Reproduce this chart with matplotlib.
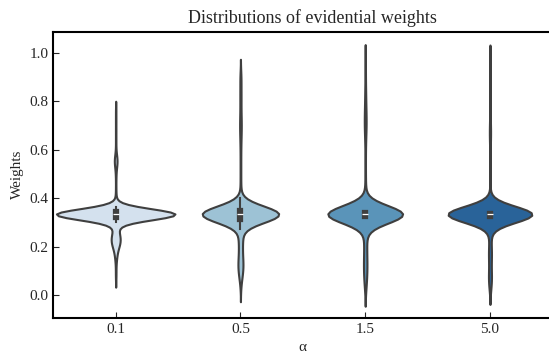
import numpy as np
import pandas as pd
import matplotlib
matplotlib.use("Agg")
import matplotlib.pyplot as plt
import seaborn as sns

alphas = ["0.1", "0.5", "1.5", "5.0"]

# binned weight values and how many samples sit on each, per alpha
w01_vals = [0.072, 0.10, 0.13, 0.15, 0.17, 0.19, 0.21, 0.23, 0.25, 0.27, 0.285,
            0.303, 0.313, 0.318, 0.323, 0.328, 0.333, 0.338, 0.343, 0.348, 0.353, 0.363,
            0.40, 0.44, 0.48, 0.51, 0.53, 0.55, 0.57, 0.60, 0.64, 0.68, 0.72, 0.76]
w01_counts = [1, 1, 1, 2, 3, 5, 10, 11, 9, 5, 3,
              5, 16, 28, 44, 57, 62, 57, 44, 28, 16, 5,
              2, 1, 1, 1, 2, 4, 3, 1, 1, 1, 1, 1]

w05_vals = [0.026, 0.04, 0.06, 0.08, 0.10, 0.12, 0.14, 0.16, 0.18, 0.20, 0.22, 0.24, 0.26,
            0.273, 0.278, 0.283, 0.288, 0.293, 0.298, 0.303, 0.308, 0.313, 0.318, 0.323, 0.328,
            0.333, 0.338, 0.343, 0.348, 0.353, 0.358, 0.363, 0.368, 0.373, 0.378, 0.383, 0.388,
            0.393,
            0.40, 0.43, 0.46, 0.49, 0.52, 0.55, 0.58, 0.61, 0.64, 0.67, 0.70, 0.73, 0.76, 0.79,
            0.82, 0.85, 0.88, 0.90, 0.919]
w05_counts = [2, 4, 10, 18, 24, 27, 24, 20, 18, 18, 20, 22, 20,
              2, 5, 9, 15, 24, 36, 52, 71, 92, 112, 129, 141,
              145, 141, 129, 112, 92, 71, 52, 36, 24, 15, 9, 5,
              2,
              8, 6, 5, 5, 5, 5, 5, 6, 8, 11, 13, 11, 8, 8,
              9, 8, 7, 6, 4]

w15_vals = [0.025, 0.05, 0.07, 0.09, 0.11, 0.13, 0.15, 0.17, 0.19, 0.21, 0.23, 0.25, 0.27,
            0.323, 0.328, 0.333, 0.338, 0.343,
            0.40, 0.44, 0.48, 0.52, 0.56, 0.60, 0.64, 0.68, 0.71, 0.74, 0.77, 0.80, 0.84, 0.88,
            0.92, 0.962]
w15_counts = [2, 3, 3, 3, 4, 4, 3, 3, 3, 3, 3, 3, 3,
              15, 60, 180, 60, 15,
              2, 2, 1, 1, 1, 1, 2, 3, 3, 3, 2, 2, 2, 1,
              1, 1]

w50_vals = [0.027, 0.04, 0.05, 0.07, 0.09, 0.11, 0.13, 0.15, 0.17, 0.19, 0.21, 0.23, 0.25, 0.27,
            0.323, 0.328, 0.333, 0.338, 0.343,
            0.40, 0.45, 0.50, 0.55, 0.60, 0.64, 0.67, 0.70, 0.74, 0.78, 0.82, 0.86, 0.90, 0.94,
            0.966]
w50_counts = [2, 1, 3, 4, 3, 2, 2, 3, 4, 3, 2, 2, 2, 3,
              15, 55, 200, 55, 15,
              1, 1, 1, 1, 1, 2, 2, 2, 1, 1, 1, 1, 1, 2,
              1]

groups = {"0.1": (w01_vals, w01_counts), "0.5": (w05_vals, w05_counts),
          "1.5": (w15_vals, w15_counts), "5.0": (w50_vals, w50_counts)}

rows = []
for a in alphas:
    vals, counts = groups[a]
    w = np.repeat(vals, counts)
    rows.append(pd.DataFrame({"alpha": a, "weight": w}))
df = pd.concat(rows, ignore_index=True)

sns.set_style("ticks")
plt.rcParams["font.family"] = "serif"
plt.rcParams["font.serif"] = ["Liberation Serif", "DejaVu Serif"]

fig = plt.figure(figsize=(5.49, 3.54), dpi=100)
ax = fig.add_axes([0.0971, 0.1025, 0.909, 0.808])

sns.violinplot(data=df, x="alpha", y="weight", hue="alpha", order=alphas, hue_order=alphas,
               palette="Blues", legend=False, width=0.95, linewidth=1.5, linecolor="#3f3f3f",
               inner="box", inner_kws=dict(box_width=4.5, whis_width=1.5),
               density_norm="area", common_norm=True, ax=ax)
# old-style box: line caps stick out past the quartiles
for ln in ax.lines:
    ln.set_solid_capstyle("projecting")

ax.set_ylim(-0.094, 1.087)
ax.set_title("Distributions of evidential weights", fontsize=13, x=0.519)
ax.set_xlabel("α", fontsize=11)
ax.set_ylabel("Weights", fontsize=11)
ax.tick_params(direction="in", length=4, width=0.8, labelsize=11, top=False, right=False)
for s in ax.spines.values():
    s.set_linewidth(1.5)
    s.set_color("black")

fig.savefig("out.png", dpi=100)
